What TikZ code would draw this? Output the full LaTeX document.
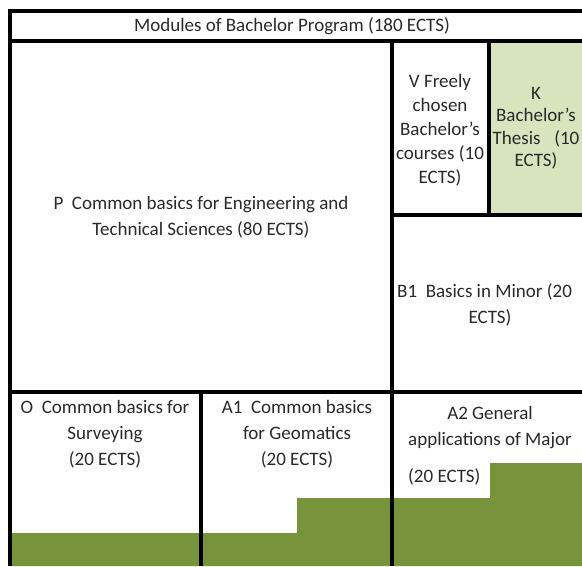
\documentclass[tikz,border=0pt]{standalone}
\usepackage{fontspec}
\setmainfont{Carlito}
\definecolor{dkgreen}{HTML}{77933C}
\definecolor{ltgreen}{HTML}{D7E4BD}
\definecolor{txtgray}{HTML}{2A2A2A}
\tikzset{
  rule/.style={line width=4pt, black},
  lbl/.style={inner sep=0pt, align=center, text=txtgray, font=\fontsize{19}{26}\selectfont},
}
\begin{document}
\begin{tikzpicture}[x=1pt,y=-1pt]
\useasboundingbox (0,0) rectangle (582,567);
\begin{scope}
\clip (0,0) rectangle (582,567);
\fill[white] (0,0) rectangle (582,567);
% fills
\fill[ltgreen] (489,41) rectangle (592,215);
\fill[dkgreen] (10,566) -- (10,533) -- (297,533) -- (297,498) -- (490,498) -- (490,463) -- (592,463) -- (592,566) -- cycle;
% grid lines
\draw[rule] (9.5,566) -- (9.5,11.5) -- (592,11.5);
\draw[rule] (592,11.5) -- (592,566);
\draw[rule] (7.5,41) -- (592,41);
\draw[rule] (392,41) -- (392,566);
\draw[rule] (489,41) -- (489,215);
\draw[rule] (392,215) -- (592,215);
\draw[rule] (7.5,392) -- (592,392);
\draw[rule] (201,392) -- (201,566);
% texts
\node[lbl] (title) at (292,26) {Modules of Bachelor Program (180 ECTS)};
\node[lbl] (P) at (201,217) {P\ \ Common basics for Engineering and\\Technical Sciences (80 ECTS)};
\node[lbl, font=\fontsize{19}{24}\selectfont] (V) at (440,130) {V Freely\\chosen\\Bachelor's\\courses (10\\ECTS)};
\node[lbl, font=\fontsize{19}{22.5}\selectfont] (K) at (536,128) {K\\Bachelor's\\Thesis\enspace\ (10\\ECTS)};
\node[lbl, anchor=west] (B1a) at (397,292) {B1\ \ Basics in Minor (20};
\node[lbl] (B1b) at (490,318) {ECTS)};
\node[lbl] (O) at (105,434) {O\ \ Common basics for\\Surveying\\(20 ECTS)};
\node[lbl] (A1) at (297,434) {A1\ \ Common basics\\for Geomatics\\(20 ECTS)};
\node[lbl] (A2) at (490,428) {A2 General\\applications of Major};
\node[lbl, anchor=west] (A2b) at (408,477) {(20 ECTS)};
\end{scope}
\end{tikzpicture}
\end{document}
